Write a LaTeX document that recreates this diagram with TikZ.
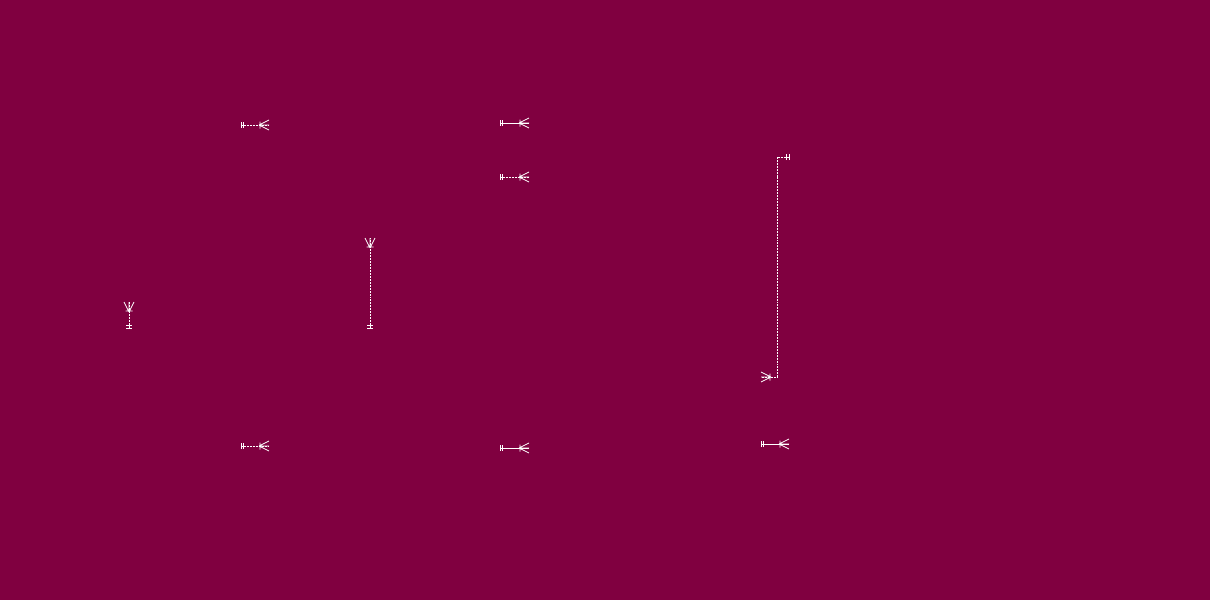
\documentclass[tikz,border=0pt]{standalone}
\definecolor{erback}{RGB}{128,0,64}
\begin{document}
\begin{tikzpicture}[x=.025cm,y=-.025cm,line width=.6pt,
  rel/.style={draw=white},
  optrel/.style={draw=white,dash pattern=on 1.4pt off .7pt},
  manytip/.pic={\draw[white] (-10,0)--(0,-5) (-10,0)--(0,0) (-10,0)--(0,5) (-9,-3.5)--(-9,3.5);},
  onetip/.pic={\draw[white] (0,-3)--(0,3) (2.5,-3)--(2.5,3);}]
  \fill[erback] (0,0) rectangle (1210,600);
  % end points
  \coordinate (c1a) at (241,125);
  \coordinate (c1b) at (269,125);
  \coordinate (c2a) at (500,123);
  \coordinate (c2b) at (529,123);
  \coordinate (c3a) at (500,177);
  \coordinate (c3b) at (529,177);
  \coordinate (c4a) at (129,328);
  \coordinate (c4b) at (129,302);
  \coordinate (c5a) at (370,328);
  \coordinate (c5b) at (370,238);
  \coordinate (c6a) at (789,157);
  \coordinate (c6b) at (761,377);
  \coordinate (c7a) at (241,446);
  \coordinate (c7b) at (269,446);
  \coordinate (c8a) at (500,448);
  \coordinate (c8b) at (529,448);
  \coordinate (c9a) at (761,444);
  \coordinate (c9b) at (789,444);
  % relationships
  \draw[optrel] (c1a)--(c1b);
  \draw[rel] (c2a)--(c2b);
  \draw[optrel] (c3a)--(c3b);
  \draw[optrel] (c4a)--(c4b);
  \draw[optrel] (c5a)--(c5b);
  \draw[optrel] (c6a)--(777,157)--(777,377)--(c6b);
  \draw[optrel] (c7a)--(c7b);
  \draw[rel] (c8a)--(c8b);
  \draw[rel] (c9a)--(c9b);
  % cardinalities
  \pic at (c1a) {onetip};
  \pic at (c1b) {manytip};
  \pic at (c2a) {onetip};
  \pic at (c2b) {manytip};
  \pic at (c3a) {onetip};
  \pic at (c3b) {manytip};
  \pic[rotate=90] at (c4a) {onetip};
  \pic[rotate=90] at (c4b) {manytip};
  \pic[rotate=90] at (c5a) {onetip};
  \pic[rotate=90] at (c5b) {manytip};
  \pic[rotate=180] at (c6a) {onetip};
  \pic[rotate=180] at (c6b) {manytip};
  \pic at (c7a) {onetip};
  \pic at (c7b) {manytip};
  \pic at (c8a) {onetip};
  \pic at (c8b) {manytip};
  \pic at (c9a) {onetip};
  \pic at (c9b) {manytip};
\end{tikzpicture}
\end{document}
